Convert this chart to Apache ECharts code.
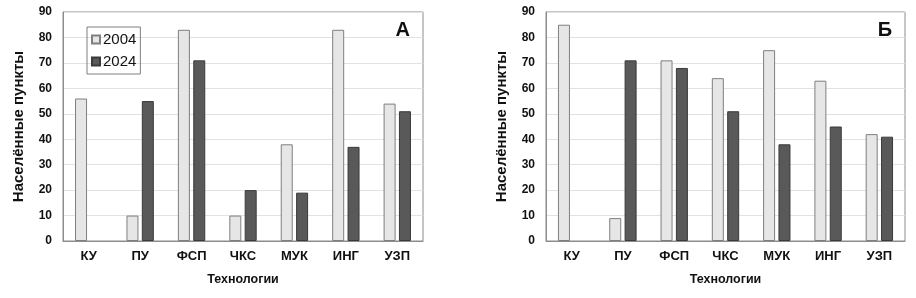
<!DOCTYPE html>
<html>
<head>
<meta charset="utf-8">
<script src="https://cdn.jsdelivr.net/npm/echarts@6/dist/echarts.min.js"></script>
<style>
  html, body { margin: 0; padding: 0; background: #fff; }
  #chart { width: 916px; height: 298px; }
</style>
</head>
<body>
<div id="chart"></div>
<script>
var categories = ['КУ', 'ПУ', 'ФСП', 'ЧКС', 'МУК', 'ИНГ', 'УЗП'];
var years = ['2004', '2024'];
// панель А
var a2004 = [56, 10, 83, 10, 38, 83, 54];
var a2024 = [0, 55, 71, 20, 19, 37, 51];
// панель Б
var b2004 = [85, 9, 71, 64, 75, 63, 42];
var b2024 = [0, 71, 68, 51, 38, 45, 41];

var font = 'Liberation Sans, Arial, sans-serif';
var lightBar = { color: '#e6e6e6', borderColor: '#7f7f7f', borderWidth: 1 };
var darkBar = { color: '#595959', borderColor: '#3a3a3a', borderWidth: 1 };

function xAx(idx) {
    return {
        type: 'category', gridIndex: idx, data: categories,
        axisTick: { show: false },
        axisLine: { lineStyle: { color: '#8c8c8c' } },
        axisLabel: { color: '#111', fontWeight: 'bold', fontSize: 13, fontFamily: font, margin: 9 },
        name: 'Технологии', nameLocation: 'middle', nameGap: 32,
        nameTextStyle: { color: '#111', fontWeight: 'bold', fontSize: 12.5, fontFamily: font }
    };
}
function yAx(idx) {
    return {
        type: 'value', gridIndex: idx, min: 0, max: 90, interval: 10,
        axisLine: { show: true, lineStyle: { color: '#8c8c8c' } },
        axisTick: { show: false },
        splitLine: { lineStyle: { color: '#e2e2e2' } },
        axisLabel: { color: '#111', fontWeight: 'bold', fontSize: 12, fontFamily: font, margin: 11 },
        name: 'Населённые пункты', nameLocation: 'middle', nameGap: 37,
        nameTextStyle: { color: '#111', fontWeight: 'bold', fontSize: 15, fontFamily: font }
    };
}
function bars(idx, name, data, style) {
    // нулевые столбцы без контура
    var d = data.map(function (v) {
        return v === 0 ? { value: 0, itemStyle: { borderWidth: 0 } } : v;
    });
    return {
        name: name, type: 'bar', xAxisIndex: idx, yAxisIndex: idx,
        data: d, barWidth: 12, barGap: '28%', itemStyle: style
    };
}

var myChart = echarts.init(document.getElementById('chart'));
var option = {
    animation: false,
    backgroundColor: '#fff',
    grid: [
        { left: 63, right: 493, top: 12, bottom: 57, show: true, borderColor: '#8c8c8c', borderWidth: 1 },
        { left: 546, right: 11, top: 12, bottom: 57, show: true, borderColor: '#8c8c8c', borderWidth: 1 }
    ],
    legend: {
        data: years, orient: 'vertical', left: 87, top: 27,
        icon: 'rect', itemWidth: 8, itemHeight: 8, itemGap: 7,
        borderColor: '#7f7f7f', borderWidth: 1, padding: [5, 4, 5, 4],
        textStyle: { fontSize: 15, color: '#111', fontFamily: font, padding: [0, 0, 0, -2] }
    },
    title: [
        { text: 'А', right: 501, top: 15, textStyle: { fontSize: 20, fontWeight: 'bold', color: '#111', fontFamily: font } },
        { text: 'Б', right: 19, top: 15, textStyle: { fontSize: 20, fontWeight: 'bold', color: '#111', fontFamily: font } }
    ],
    xAxis: [xAx(0), xAx(1)],
    yAxis: [yAx(0), yAx(1)],
    series: [
        bars(0, '2004', a2004, lightBar),
        bars(0, '2024', a2024, darkBar),
        bars(1, '2004', b2004, lightBar),
        bars(1, '2024', b2024, darkBar)
    ]
};
myChart.setOption(option);
</script>
</body>
</html>
